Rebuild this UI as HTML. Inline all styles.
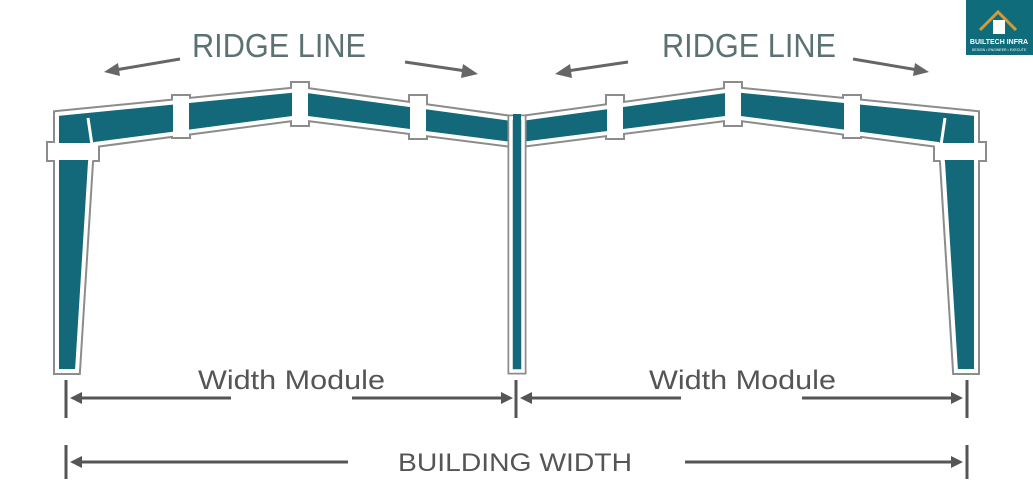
<!DOCTYPE html>
<html><head><meta charset="utf-8"><style>
html,body{margin:0;padding:0;background:#fff;}
svg{display:block}
</style></head><body>
<svg width="1033" height="500" viewBox="0 0 1033 500" xmlns="http://www.w3.org/2000/svg" font-family="Liberation Sans, sans-serif">
<defs>
<g id="frame">
  <g stroke="#8c8c8c" stroke-width="8" stroke-linejoin="miter" fill="#13697a">
    <polygon points="57,114 300,90 512,119 512,144 300,117 95,144 92,152 90,162 77,371 57,371"/>
    <rect x="50" y="145" width="46" height="13"/>
    <rect x="175" y="98" width="12" height="37"/>
    <rect x="294" y="85" width="12" height="38"/>
    <rect x="412" y="98" width="12" height="38"/>
  </g>
  <g stroke="#fff" stroke-width="4" stroke-linejoin="miter" fill="#13697a">
    <polygon points="57,114 300,90 512,119 512,144 300,117 95,144 92,152 90,162 77,371 57,371"/>
  </g>
  <g stroke="#fff" stroke-width="4" fill="#fff">
    <rect x="50" y="145" width="46" height="13"/>
    <rect x="175" y="98" width="12" height="37"/>
    <rect x="294" y="85" width="12" height="38"/>
    <rect x="412" y="98" width="12" height="38"/>
  </g>
  <line x1="88" y1="118" x2="92" y2="145" stroke="#fff" stroke-width="3"/>
  <g stroke="#666" stroke-width="3" fill="#666">
    <line x1="180" y1="59" x2="115" y2="70"/>
    <polygon points="104,72 118,63 120,76" stroke="none"/>
    <line x1="405" y1="62" x2="466" y2="71"/>
    <polygon points="478,74 463,64 461,78" stroke="none"/>
  </g>
  <g stroke="#555" stroke-width="3" fill="#555">
    <line x1="66" y1="380" x2="66" y2="418"/>
    <line x1="66" y1="445" x2="66" y2="479"/>
    <line x1="80" y1="398" x2="231" y2="398"/>
    <polygon points="70,398 82,392 82,404" stroke="none"/>
    <line x1="352" y1="398" x2="505" y2="398"/>
    <polygon points="513,398 501,392 501,404" stroke="none"/>
    <line x1="80" y1="462" x2="348" y2="462"/>
    <polygon points="70,462 82,456 82,468" stroke="none"/>
  </g>
</g>
</defs>
<use href="#frame"/>
<use href="#frame" transform="translate(1033,0) scale(-1,1)"/>
<text x="192" y="57" font-size="33" fill="#5c7272" textLength="174" lengthAdjust="spacingAndGlyphs">RIDGE LINE</text>
<text x="662" y="57" font-size="33" fill="#5c7272" textLength="174" lengthAdjust="spacingAndGlyphs">RIDGE LINE</text>
<rect x="511" y="118" width="12" height="253" fill="#13697a" stroke="#8c8c8c" stroke-width="7"/>
<rect x="511" y="118" width="12" height="253" fill="#13697a" stroke="#fff" stroke-width="3.5"/>
<rect x="513" y="114" width="8" height="8" fill="#13697a"/>
<line x1="516" y1="380" x2="516" y2="418" stroke="#555" stroke-width="3"/>
<text x="198" y="389" font-size="27" fill="#555" textLength="187" lengthAdjust="spacingAndGlyphs">Width Module</text>
<text x="649" y="389" font-size="27" fill="#555" textLength="187" lengthAdjust="spacingAndGlyphs">Width Module</text>
<text x="398" y="471" font-size="25" fill="#555" textLength="234" lengthAdjust="spacingAndGlyphs">BUILDING WIDTH</text>
<rect x="966" y="0" width="67" height="55" fill="#0f6d7b"/>
<path d="M980 30 L998 12 L1016 30" fill="none" stroke="#d69a35" stroke-width="3"/>
<rect x="993" y="20" width="12" height="14" fill="#fff"/>
<text x="999" y="44" font-size="7" font-weight="bold" fill="#fff" text-anchor="middle">BUILTECH INFRA</text>
<text x="999" y="51" font-size="3.5" fill="#fff" text-anchor="middle">DESIGN • ENGINEER • EXECUTE</text>
</svg>
</body></html>
